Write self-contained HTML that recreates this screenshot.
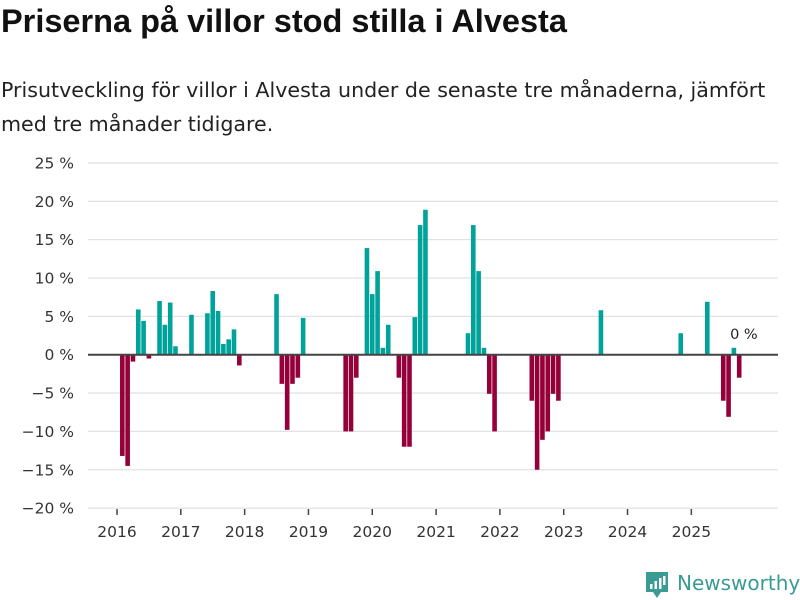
<!DOCTYPE html>
<html><head><meta charset="utf-8"><style>
body{margin:0;width:800px;height:600px;background:#fff;font-family:"Liberation Sans",sans-serif;overflow:hidden;position:relative}
h1{position:absolute;left:1px;top:3px;margin:0;font-size:32.5px;font-weight:bold;color:#111;white-space:nowrap}
p{position:absolute;left:1px;top:73px;margin:0;font-family:"DejaVu Sans",sans-serif;font-size:20.6px;line-height:34px;color:#222;width:800px;white-space:nowrap}
svg{position:absolute;left:0;top:0}
svg text{font-family:"DejaVu Sans",sans-serif}
</style></head><body>
<h1>Priserna på villor stod stilla i Alvesta</h1>
<p>Prisutveckling för villor i Alvesta under de senaste tre månaderna, jämfört<br>med tre månader tidigare.</p>
<svg id="c" width="800" height="600"></svg>
<script>
const months=[1,2,3,4,5,6,8,9,10,11,14,17,18,19,20,21,22,23,30,31,32,33,34,35,43,44,45,47,48,49,50,51,53,54,55,56,57,58,66,67,68,69,70,71,78,79,80,81,82,83,91,106,111,114,115,116,117];
const values=[-13.2,-14.5,-0.9,5.9,4.4,-0.5,7.0,3.9,6.8,1.1,5.2,5.4,8.3,5.7,1.4,2.0,3.3,-1.4,7.9,-3.8,-9.8,-3.8,-3.0,4.8,-10,-10,-3,13.9,7.9,10.9,0.9,3.9,-3,-12,-12,4.9,16.9,18.9,2.8,16.9,10.9,0.9,-5.1,-10,-6,-15,-11.1,-10,-5.1,-6,5.8,2.8,6.9,-6,-8.1,0.9,-3];
const yTicks=[25,20,15,10,5,0,-5,-10,-15,-20];
const years=[2016,2017,2018,2019,2020,2021,2022,2023,2024,2025];
const NS="http://www.w3.org/2000/svg";
const svg=document.getElementById('c');
const y=v=>354.7-v*7.67;
const x=m=>117+m*5.318;
function mk(t,a){const e=document.createElementNS(NS,t);for(const k in a)e.setAttribute(k,a[k]);svg.appendChild(e);return e;}
yTicks.forEach(t=>{
 const l=mk('line',{x1:88,x2:778,y1:y(t),y2:y(t),stroke:'#e2e2e2','stroke-width':1.3});
 
 
 const tx=mk('text',{x:74,y:y(t)+5.5,'text-anchor':'end','font-size':15.5,fill:'#333'});
 tx.textContent=(t<0?'\u2212'+(-t):t)+' %';
 
 
});
years.forEach((yr,i)=>{
 const xx=x(i*12);
 const l=mk('line',{x1:xx,x2:xx,y1:509,y2:515,stroke:'#444','stroke-width':1.5});
 
 
 const tx=mk('text',{x:xx,y:537,'text-anchor':'middle','font-size':15.5,fill:'#333'});
 tx.textContent=yr;
 
 
});
months.forEach((m,i)=>{
 const v=values[i];
 const r=mk('rect',{x:x(m)-2.3,width:4.6,y:Math.min(y(v),y(0)),height:Math.abs(y(v)-y(0)),fill:v>=0?'#00a39a':'#96003a'});
 
 
});
const z=mk('line',{x1:88,x2:778,y1:y(0),y2:y(0),stroke:'#444','stroke-width':2});


const lb=mk('text',{x:x(116)+10,y:339,'text-anchor':'middle','font-size':14.5,fill:'#222'});
lb.textContent='0 %';


const g=mk('g',{});


g.innerHTML='<path d="M646 572h22v20h-7l-4 6-4-6h-7z" fill="#3a9a94"/><rect x="650" y="584" width="2.5" height="5" fill="#fff"/><rect x="654.5" y="581" width="2.5" height="8" fill="#fff"/><rect x="659" y="578" width="2.5" height="11" fill="#fff"/><rect x="663" y="576" width="2.5" height="9" fill="#fff"/><text x="677" y="590" font-size="20" fill="#3a9a94">Newsworthy</text>';
</script>
</body></html>
